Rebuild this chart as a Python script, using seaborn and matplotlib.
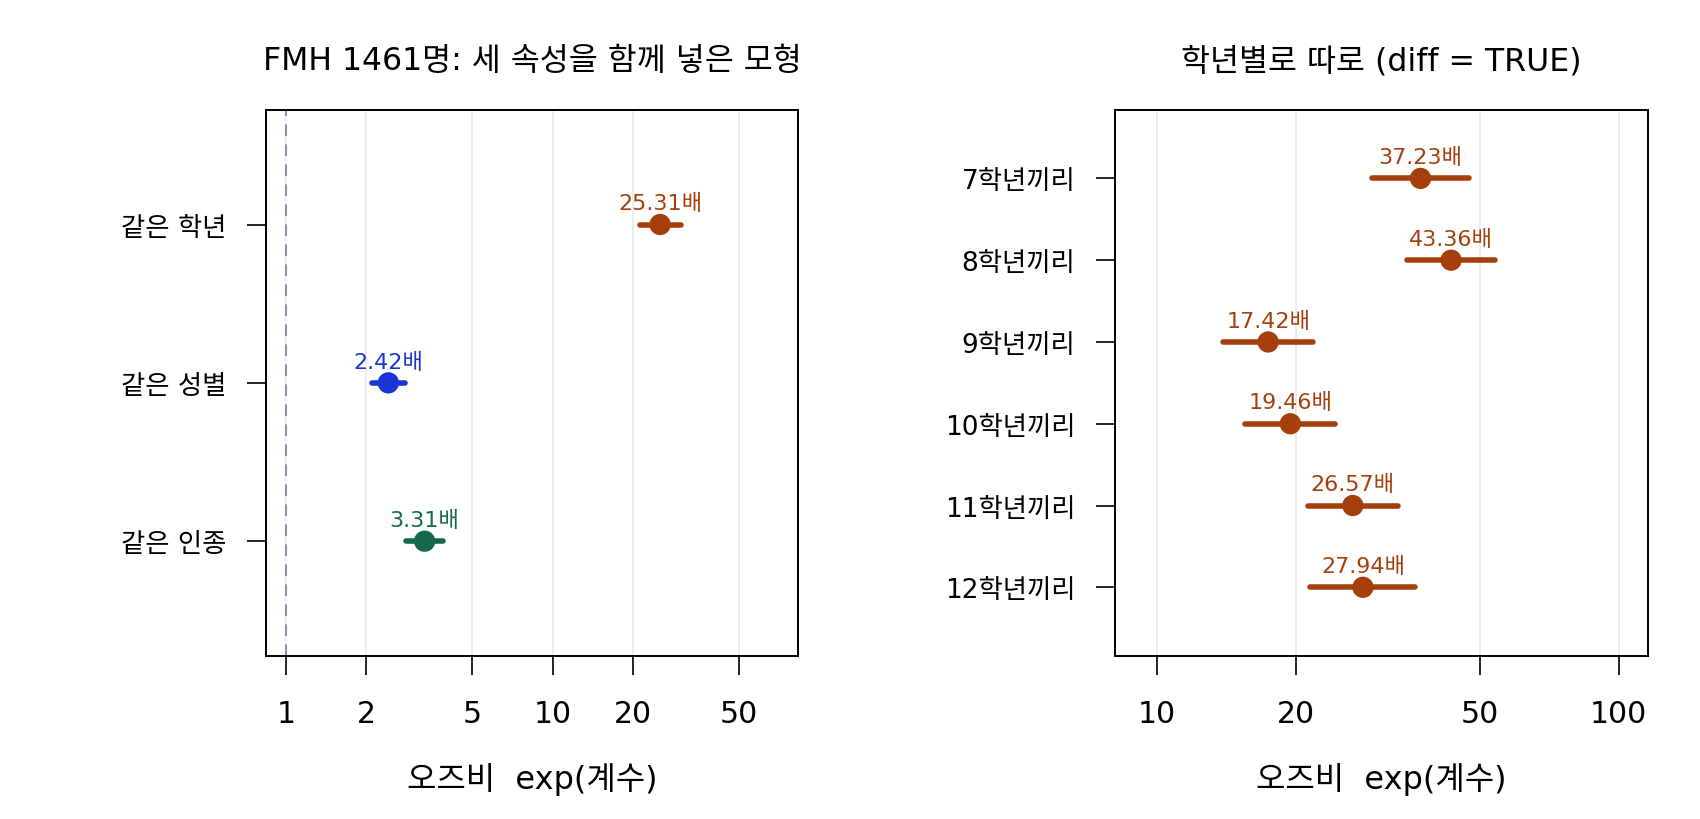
import numpy as np
import pandas as pd
import matplotlib
matplotlib.use("Agg")
import matplotlib.pyplot as plt
import seaborn as sns

# ---- data ----
left_labels = ["같은 학년", "같은 성별", "같은 인종"]
left_or = [25.31, 2.42, 3.31]
left_lo = [21.2, 2.10, 2.82]
left_hi = [30.2, 2.79, 3.89]
left_colors = ["#A5400D", "#1A35D5", "#14694A"]
left_ticks = [1, 2, 5, 10, 20, 50]

right_labels = ["7학년끼리", "8학년끼리", "9학년끼리", "10학년끼리", "11학년끼리", "12학년끼리"]
right_or = [37.23, 43.36, 17.42, 19.46, 26.57, 27.94]
right_lo = [29.2, 34.8, 13.9, 15.5, 21.2, 21.5]
right_hi = [47.5, 54.0, 21.8, 24.3, 33.3, 36.3]
right_color = "#A5400D"
right_ticks = [10, 20, 50, 100]

title_left = "FMH 1461명: 세 속성을 함께 넣은 모형"
title_right = "학년별로 따로 (diff = TRUE)"
xlabel = "오즈비  exp(계수)"

sns.set_theme(style="white")
plt.rcParams['font.family'] = ['DejaVu Sans', 'Noto Sans CJK KR']
plt.rcParams['axes.unicode_minus'] = False
plt.rcParams['text.color'] = 'black'
plt.rcParams['axes.labelcolor'] = 'black'
plt.rcParams['xtick.color'] = 'black'
plt.rcParams['ytick.color'] = 'black'

fig = plt.figure(figsize=(17, 8.2), dpi=100)
axL = fig.add_axes([266/1700, (820-657)/820, 532/1700, (657-110.7)/820])
axR = fig.add_axes([1115/1700, (820-657)/820, 533/1700, (657-110.7)/820])


def draw(ax, labels, ors, los, his, colors, ticks, xlim, ylim, title, ref_line):
    df = pd.DataFrame({"label": labels, "or": ors, "lo": los, "hi": his})
    ax.set_xscale("log")
    ax.set_xlim(*xlim)
    for t in ticks:
        ax.axvline(t, color="#E8ECF2", lw=1.3, zorder=0)
    if ref_line is not None:
        ax.axvline(ref_line, color="#8A90A8", lw=1.5, ls=(0, (5.6, 4)), zorder=1)
    pos = np.arange(len(labels))
    for i in range(len(labels)):
        ax.plot([df["lo"][i], df["hi"][i]], [pos[i], pos[i]], color=colors[i],
                lw=4.0, solid_capstyle="round", zorder=2)
    sns.scatterplot(data=df.assign(y=pos), x="or", y="y", hue="label",
                    palette=dict(zip(labels, colors)), s=235, linewidth=0,
                    legend=False, ax=ax, zorder=3)
    for i in range(len(labels)):
        ax.annotate(f"{df['or'][i]:.2f}배", (df["or"][i], pos[i]),
                    xytext=(0, 11), textcoords="offset points",
                    ha="center", va="baseline", fontsize=16, color=colors[i])
    ax.set_yticks(pos)
    ax.set_yticklabels(labels)
    ax.set_ylim(*ylim)
    ax.set_xticks(ticks)
    ax.set_xticklabels([str(t) for t in ticks])
    ax.xaxis.set_minor_locator(matplotlib.ticker.NullLocator())
    ax.tick_params(axis="x", which="major", bottom=True, length=13.7, width=1.2,
                   pad=17, labelsize=21.5, color="black", labelcolor="black")
    ax.tick_params(axis="y", which="major", left=True, length=13.7, width=1.2,
                   pad=15, labelsize=19, color="black", labelcolor="black")
    for s in ax.spines.values():
        s.set_visible(True)
        s.set_color("black")
        s.set_linewidth(1.4)
    ax.set_xlabel(xlabel, fontsize=23, labelpad=25, color="black")
    ax.set_ylabel("")
    ax.set_title(title, fontsize=22.7, pad=29, color="black")


draw(axL, left_labels, left_or, left_lo, left_hi, left_colors, left_ticks,
     (0.841, 83.3), (2.725, -0.725), title_left, 1)
draw(axR, right_labels, right_or, right_lo, right_hi, [right_color] * len(right_labels),
     right_ticks, (8.12, 115.7), (5.84, -0.84), title_right, None)

fig.savefig("out.png", dpi=100)
